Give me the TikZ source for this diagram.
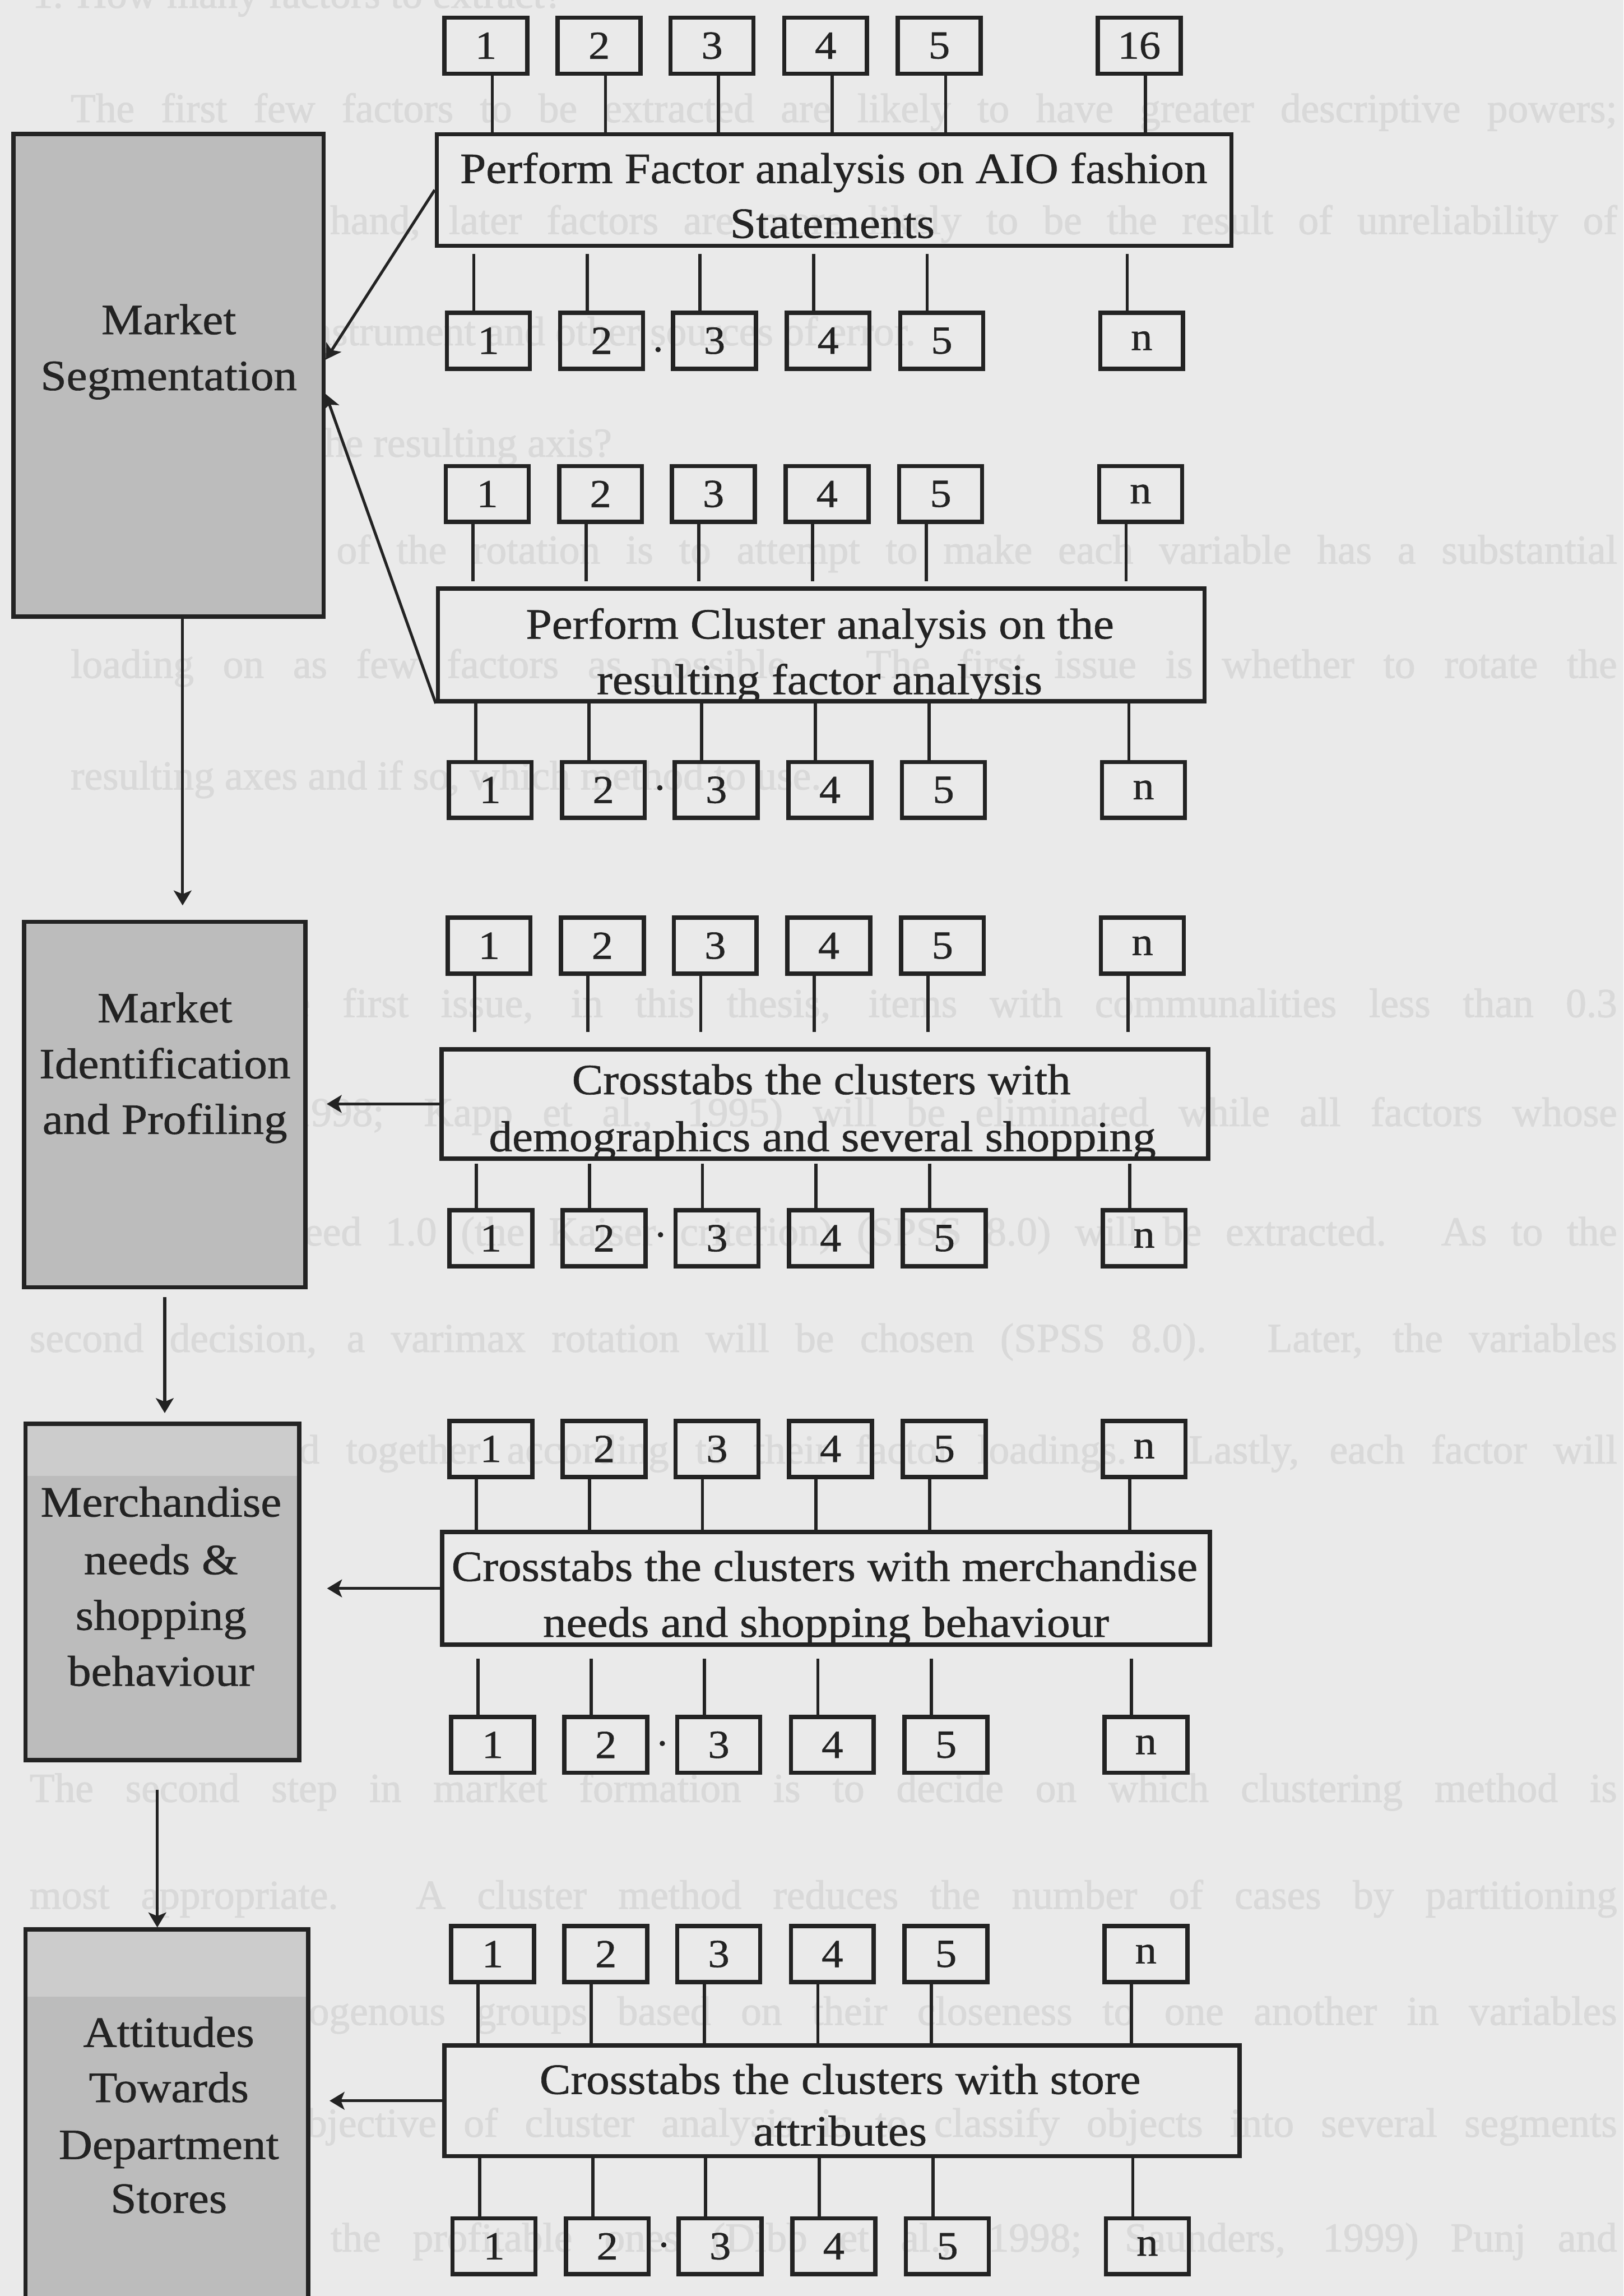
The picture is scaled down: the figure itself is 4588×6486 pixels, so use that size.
\documentclass[tikz,border=0pt]{standalone}
\usepackage{fontspec}
\setmainfont{Liberation Serif}[FakeStretch=1.08,FakeBold=0.8]
\newfontfamily\ghostfont{Liberation Serif}[FakeBold=1.5]
\usetikzlibrary{arrows.meta,calc}
\definecolor{paper}{HTML}{EAEAEA}
\definecolor{ghost}{HTML}{D9D9D9}
\definecolor{ink}{HTML}{232323}
\definecolor{panel}{HTML}{BCBCBC}
\definecolor{panellight}{HTML}{CCCCCC}

\begin{document}
\begin{tikzpicture}[x=0.01cm,y=-0.01cm,
  numbox/.style={draw=ink,line width=3.4pt,minimum width=2.34cm,minimum height=1.58cm,
    inner sep=0pt,text=ink,font=\fontsize{31.9}{38}\selectfont},
  bigbox/.style={draw=ink,line width=3.4pt,inner sep=0pt},
  sidebox/.style={draw=ink,line width=3.4pt,fill=panel,inner sep=0pt},
  toplight/.style={path picture={\fill[panellight] (path picture bounding box.north west)
    rectangle ($(path picture bounding box.north east)+(0,#1)$);}},
  label/.style={anchor=base,inner sep=0pt,text=ink,font=\fontsize{34.7}{44.7}\selectfont},
  faint/.style={anchor=base west,inner sep=0pt,text=ghost,font=\ghostfont\fontsize{33}{40}\selectfont},
  link/.style={draw=ink,line width=2.6pt},
  flow/.style={draw=ink,line width=2.3pt,-{Stealth[length=0.42cm,width=0.5cm,inset=0.1cm]}},
]
\clip (0,0) rectangle (4588,6486);
\fill[paper] (0,0) rectangle (4588,6486);

% ---------- faint page text showing through ----------
\node[faint] (g0) at (91,22) {1. How many factors to extract?};
\node[faint] (g1) at (199,345) {\makebox[43.67cm][s]{The first few factors to be extracted are likely to have greater descriptive powers;}};
\node[faint] (g2) at (199,661) {\makebox[43.67cm][s]{On the other hand, later factors are more likely to be the result of unreliability of}};
\node[faint] (g3) at (199,975) {measurement instrument and other sources of error.};
\node[faint] (g4) at (91,1290) {2. How to rotate the resulting axis?};
\node[faint] (g5) at (199,1592) {\makebox[43.67cm][s]{The objective of the rotation is to attempt to make each variable has a substantial}};
\node[faint] (g6) at (199,1915) {\makebox[43.67cm][s]{loading on as few factors as possible. The first issue is whether to rotate the}};
\node[faint] (g7) at (199,2230) {resulting axes and if so, which method to use.};
\node[faint] (g8) at (83,2873) {\makebox[44.83cm][s]{To address the first issue, in this thesis, items with communalities less than 0.3}};
\node[faint] (g9) at (83,3181) {\makebox[44.83cm][s]{(Hair et al., 1998; Kapp et al., 1995) will be eliminated while all factors whose}};
\node[faint] (g10) at (83,3518) {\makebox[44.83cm][s]{eigenvalues exceed 1.0 (the Kaiser criterion) (SPSS 8.0) will be extracted. As to the}};
\node[faint] (g11) at (83,3819) {\makebox[44.83cm][s]{second decision, a varimax rotation will be chosen (SPSS 8.0). Later, the variables}};
\node[faint] (g12) at (83,4134) {\makebox[44.83cm][s]{will be grouped together according to their factor loadings. Lastly, each factor will}};
\node[faint] (g14) at (83,5090) {\makebox[44.83cm][s]{The second step in market formation is to decide on which clustering method is}};
\node[faint] (g15) at (83,5392) {\makebox[44.83cm][s]{most appropriate. A cluster method reduces the number of cases by partitioning}};
\node[faint] (g16) at (83,5720) {\makebox[44.83cm][s]{them into homogenous groups based on their closeness to one another in variables}};
\node[faint] (g17) at (83,6036) {\makebox[44.83cm][s]{space. The objective of cluster analysis is to classify objects into several segments}};
\node[faint] (g18) at (83,6360) {\makebox[44.83cm][s]{and to choose the profitable ones (Dibb et al., 1998; Saunders, 1999) Punj and}};

% ---------- process boxes ----------
\node[bigbox,minimum width=22.44cm,minimum height=3.15cm] (factor) at (2357,536.5) {};
\node[bigbox,minimum width=21.65cm,minimum height=3.18cm] (cluster) at (2320.5,1822) {};
\node[bigbox,minimum width=21.65cm,minimum height=3.09cm] (crossA) at (2330.5,3118.5) {};
\node[bigbox,minimum width=21.68cm,minimum height=3.18cm] (crossB) at (2334,4487) {};
\node[bigbox,minimum width=22.46cm,minimum height=3.13cm] (crossC) at (2379,5934.5) {};

\node[label] (factorL1) at (2356,517) {Perform Factor analysis on AIO fashion};
\node[label] (factorL2) at (2352,672) {Statements};
\begin{scope}
  \clip (cluster.south west) rectangle (cluster.north east);
  \node[label] (clusterL1) at (2317,1804) {Perform Cluster analysis on the};
  \node[label] (clusterL2) at (2316,1961) {resulting factor analysis};
\end{scope}
\begin{scope}
  \clip (crossA.south west) rectangle (crossA.north east);
  \node[label] (crossAL1) at (2321,3091) {Crosstabs the clusters with};
  \node[label] (crossAL2) at (2324,3252) {demographics and several shopping};
\end{scope}
\begin{scope}
  \clip (crossB.south west) rectangle (crossB.north east);
  \node[label] (crossBL1) at (2330,4466) {Crosstabs the clusters with merchandise};
  \node[label] (crossBL2) at (2334,4624) {needs and shopping behaviour};
\end{scope}
\node[label] (crossCL1) at (2374,5915) {Crosstabs the clusters with store};
\node[label] (crossCL2) at (2374,6061) {attributes};

% ---------- rows of numbered boxes ----------
\foreach \r/\L/\y/\last in {A/1250/129/16, B/1257/962.5/n, C/1254/1395.5/n, D/1262/2231.5/n,
    E/1259/2671.5/n, F/1264/3498/n, G/1264/4093/n, H/1269/4929/n, I/1269/5520/n, J/1273/6345.5/n}{
  \foreach \k/\off/\t in {1/0/1, 2/320/2, 3/639/3, 4/960/4, 5/1281/5, 6/1846/\last}
    \node[numbox] (\r\k) at (\L+123+\off,\y) {\t};
}

% rows feeding into a process box
\foreach \r/\big/\dx/\gap in {A/factor/18/0cm, C/cluster/-41/0.15cm, E/crossA/-41/0.42cm,
    G/crossB/-41/0cm, I/crossC/-41/0cm}{
  \foreach \k in {1,...,6}{
    \path (\r\k.south) ++(\dx,0) coordinate (tmp);
    \draw[link,shorten >=\gap] (tmp) -- (tmp |- \big.north);
  }
}
% rows produced by a process box
\foreach \r/\big/\dx/\gap in {B/factor/-41/0.17cm, D/cluster/-41/0cm, F/crossA/-41/0.08cm,
    H/crossB/-41/0.34cm, J/crossC/-41/0cm}{
  \foreach \k in {1,...,6}{
    \path (\r\k.north) ++(\dx,0) coordinate (tmp);
    \draw[link,shorten <=\gap] (tmp |- \big.south) -- (tmp);
  }
}
% small dots between boxes 2 and 3
\foreach \r/\dy in {B/25, D/-6, F/-10, H/-4, J/-4}
  \fill[ink] ($(\r2.east)!0.5!(\r3.west)$) ++(0,\dy) circle (0.075cm);

% ---------- stage boxes ----------
\node[sidebox,minimum width=8.76cm,minimum height=13.62cm] (seg) at (476,1060) {};
\node[sidebox,minimum width=7.95cm,minimum height=10.32cm] (ident) at (465.5,3120) {};
\node[sidebox,toplight=148,minimum width=7.73cm,minimum height=9.50cm] (merch) at (458.5,4497) {};
\node[sidebox,toplight=190,minimum width=7.99cm,minimum height=10.73cm] (att) at (471.5,5987.5) {};

\node[label] (segL1) at (477,944) {Market};
\node[label] (segL2) at (477,1102) {Segmentation};
\node[label] (identL1) at (466,2888) {Market};
\node[label] (identL2) at (466,3046) {Identification};
\node[label] (identL3) at (466,3203) {and Profiling};
\node[label] (merchL1) at (455,4284) {Merchandise};
\node[label] (merchL2) at (455,4447) {needs \&};
\node[label] (merchL3) at (455,4604) {shopping};
\node[label] (merchL4) at (455,4762) {behaviour};
\node[label] (attL1) at (477,5782) {Attitudes};
\node[label] (attL2) at (477,5938) {Towards};
\node[label] (attL3) at (477,6099) {Department};
\node[label] (attL4) at (477,6251) {Stores};

% ---------- flow arrows ----------
\draw[flow] (factor.west) -- ([yshift=0.44cm]seg.east);
\draw[flow] (cluster.south west) -- ([yshift=-0.53cm]seg.east);
\path (seg.south) ++(40,0) coordinate (segdrop);
\draw[flow,shorten >=0.4cm] (segdrop) -- (segdrop |- ident.north);
\draw[flow,shorten <=0.22cm,shorten >=0.24cm] (ident.south) -- (ident.south |- merch.north);
\path (merch.south) ++(-14,0) coordinate (merchdrop);
\draw[flow,shorten <=0.77cm] (merchdrop) -- (merchdrop |- att.north);
\draw[flow,shorten >=0.54cm] (crossA.west) -- (crossA.west -| ident.east);
\draw[flow,shorten >=0.73cm] (crossB.west) -- (crossB.west -| merch.east);
\draw[flow,shorten >=0.54cm] (crossC.west) -- (crossC.west -| att.east);
\end{tikzpicture}
\end{document}
